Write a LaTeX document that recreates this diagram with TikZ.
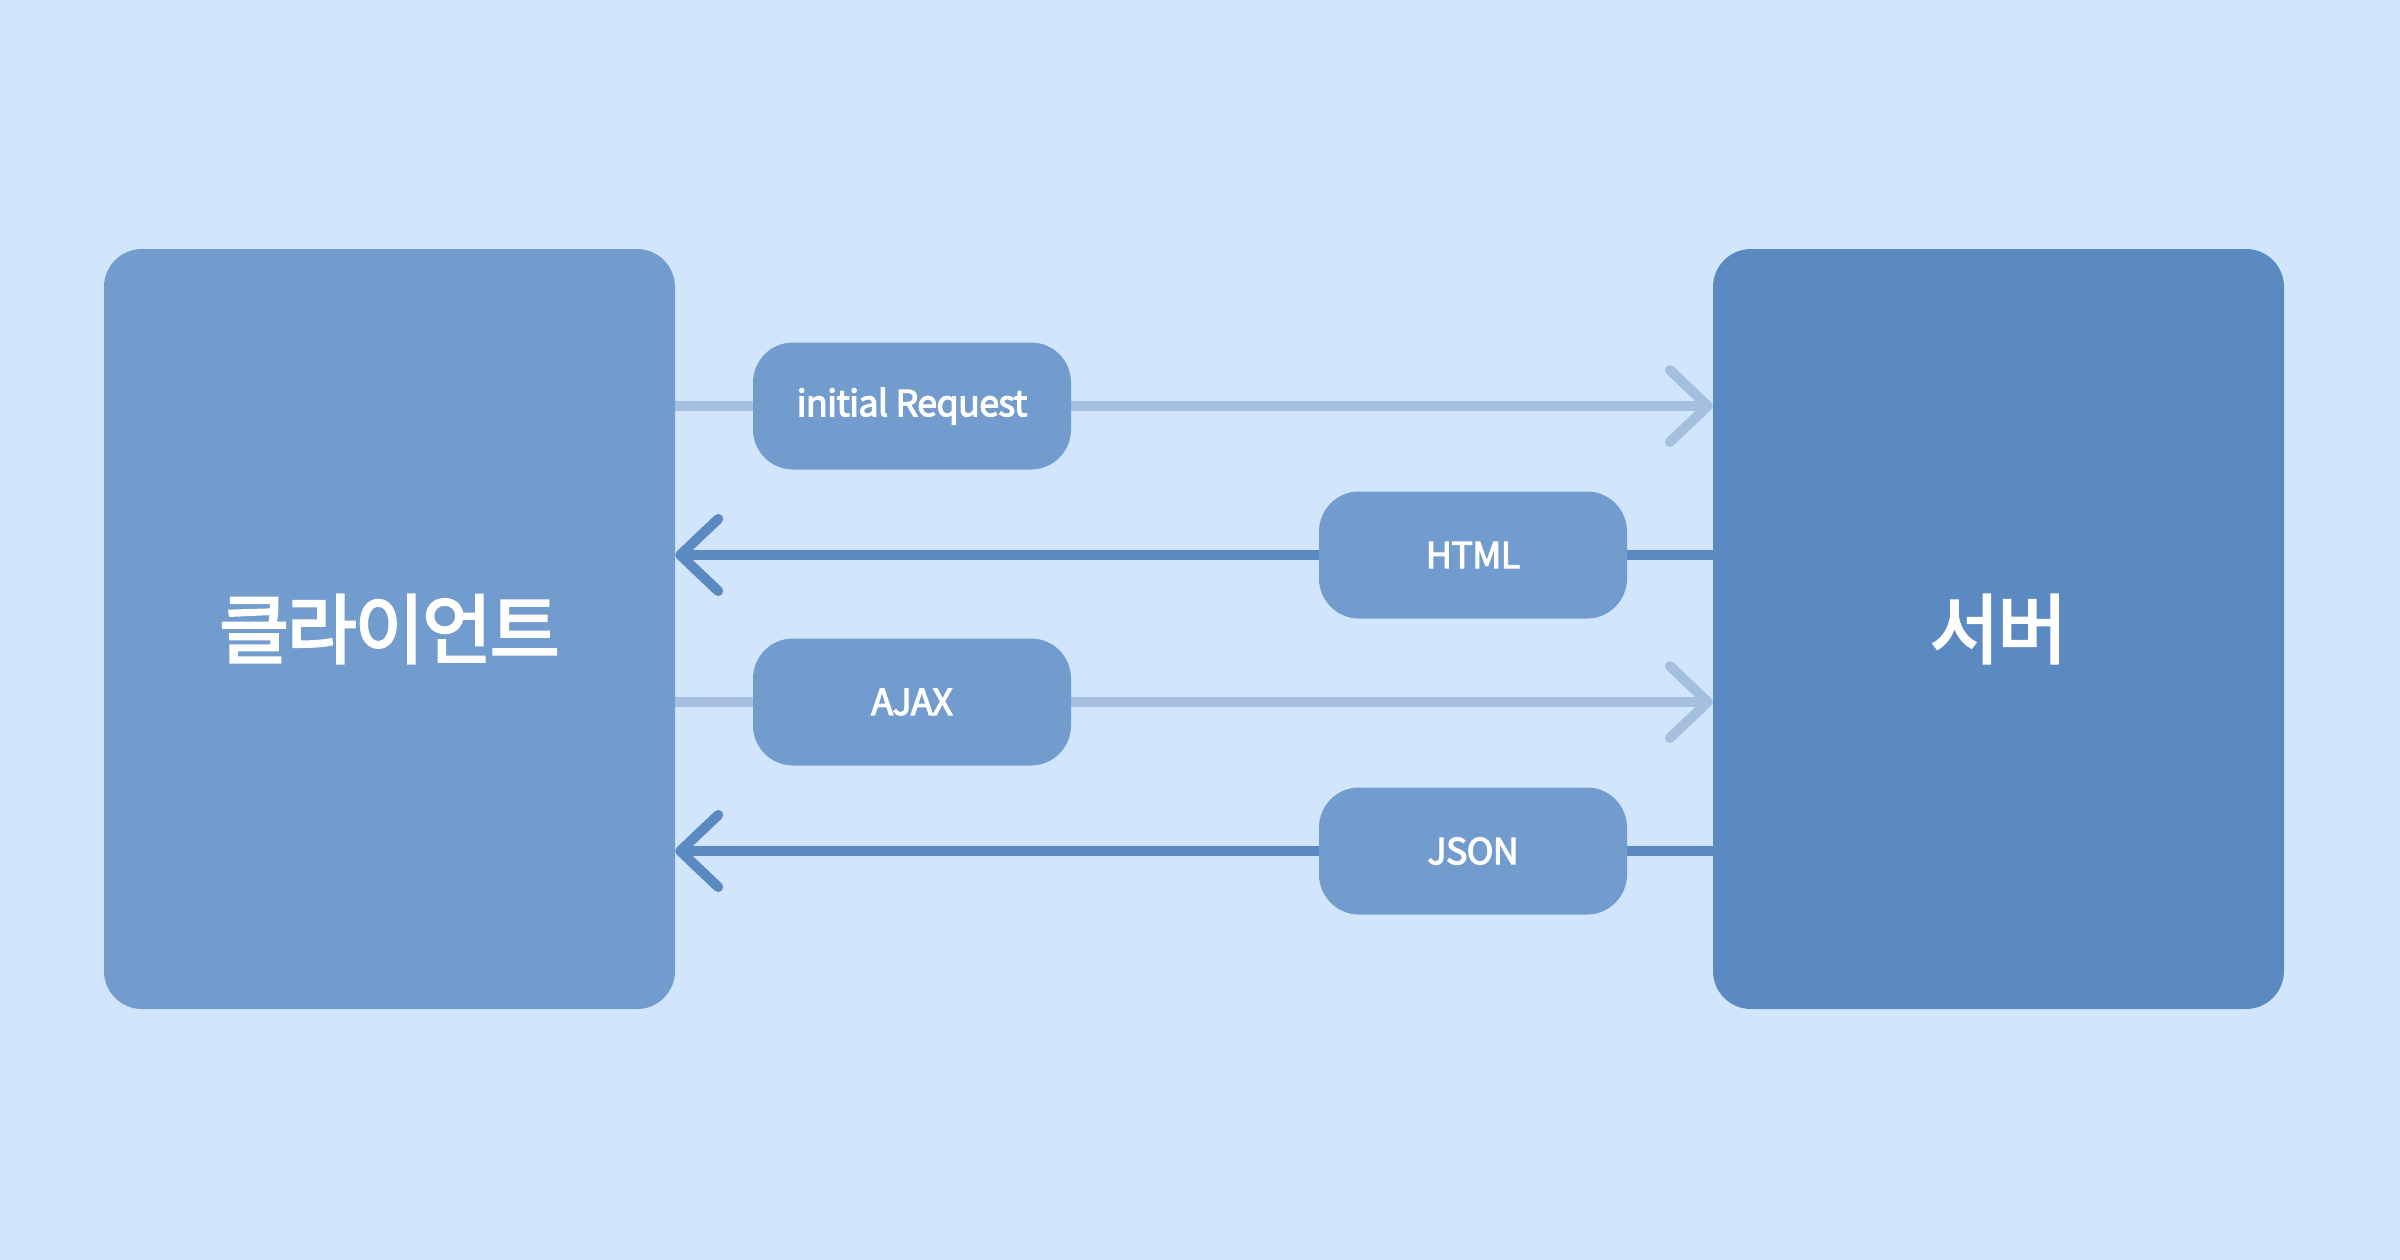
\documentclass[tikz,border=0pt]{standalone}
\usepackage{fontspec}
\setmainfont{Noto Sans CJK KR}
\newfontfamily\labfont[FakeBold=3,LetterSpace=-2]{Noto Sans CJK KR}
\newfontfamily\bigfont[FakeBold=3,LetterSpace=-3]{Noto Sans CJK KR}
\usetikzlibrary{arrows.meta}
\definecolor{bgc}{HTML}{D1E6FD}
\definecolor{clientc}{HTML}{729CCD}
\definecolor{serverc}{HTML}{5B8AC2}
\definecolor{lightc}{HTML}{A5C0DF}
\pgfdeclarelayer{back}
\pgfdeclarelayer{lines}
\pgfsetlayers{back,lines,main}
\tikzset{
  bigbox/.style={rectangle, rounded corners=38pt, minimum width=571pt, minimum height=760pt, inner sep=0pt, text=white, font=\bigfont\fontsize{76}{80}\selectfont},
  tag/.style={rectangle, rounded corners=40pt, fill=clientc, minimum width=318pt, minimum height=127pt, inner sep=0pt, text=white, font=\labfont\fontsize{36}{40}\selectfont},
  rtag/.style={tag, minimum width=308pt},
  reqline/.style={draw=lightc, line width=10pt, -{Straight Barb[length=38pt,width=72pt,round]}},
  resline/.style={draw=serverc, line width=10pt, -{Straight Barb[length=38pt,width=72pt,round]}},
}
\begin{document}
\begin{tikzpicture}[x=1pt,y=-1pt]
\begin{pgfonlayer}{back}
\fill[bgc] (0,0) rectangle (2400,1260);
\end{pgfonlayer}
\useasboundingbox (0,0) rectangle (2400,1260);
\node[bigbox, fill=clientc] (client) at (389.5,629) {클라이언트};
\node[bigbox, fill=serverc] (server) at (1998.5,629) {서버};
\node[tag] (init) at (912,406) {initial Request};
\node[rtag] (html) at (1473,555) {HTML};
\node[tag] (ajax) at (912,702) {AJAX};
\node[rtag] (json) at (1473,851) {JSON};
\begin{pgfonlayer}{lines}
\draw[reqline] (client.east |- init) -- (server.west |- init);
\draw[resline] (server.west |- html) -- (client.east |- html);
\draw[reqline] (client.east |- ajax) -- (server.west |- ajax);
\draw[resline] (server.west |- json) -- (client.east |- json);
\end{pgfonlayer}
\end{tikzpicture}
\end{document}
